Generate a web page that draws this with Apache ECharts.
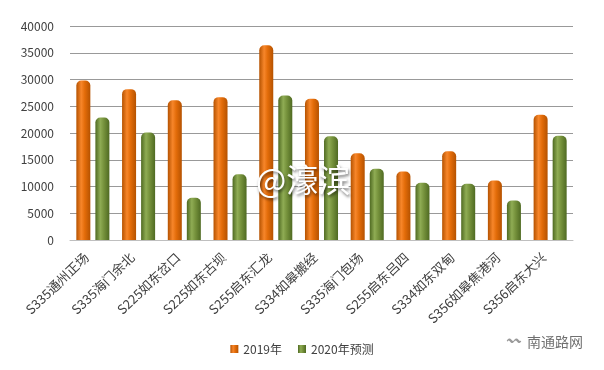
<!DOCTYPE html>
<html><head><meta charset="utf-8">
<script src="https://cdn.jsdelivr.net/npm/echarts@6/dist/echarts.min.js"></script>
<style>html,body{margin:0;padding:0;background:#fff}#c{width:604px;height:370px}</style>
</head><body><div id="c"></div>
<script>
var categories = ['S335通州正场','S335海门余北','S225如东岔口','S225如东古坝','S255启东汇龙','S334如皋搬经','S335海门包场','S255启东吕四','S334如东双甸','S356如皋焦港河','S356启东大兴'];
var values2019 = [29800, 28200, 26100, 26700, 36400, 26400, 16200, 12800, 16600, 11100, 23400];
var values2020 = [22900, 20100, 7900, 12300, 27000, 19400, 13300, 10700, 10500, 7400, 19500];
var seriesNames = ['2019年', '2020年预测'];
var yTicks = {min: 0, max: 40000, interval: 5000};

function cyl(dark, mid, light) {
  return new echarts.graphic.LinearGradient(0, 0, 1, 0, [
    {offset: 0, color: dark}, {offset: 0.35, color: light}, {offset: 0.6, color: mid}, {offset: 1, color: dark}
  ]);
}
var chart = echarts.init(document.getElementById('c'));
var font = '"Noto Sans CJK SC", "Noto Sans", sans-serif';
chart.setOption({
  animation: false,
  textStyle: {fontFamily: font},
  grid: {left: 70, right: 31, top: 26, bottom: 130, containLabel: false},
  legend: {
    bottom: 10, left: 'center', itemWidth: 8, itemHeight: 8, itemGap: 16,
    icon: 'rect',
    textStyle: {fontSize: 12, color: '#404040', fontFamily: font},
    data: seriesNames
  },
  xAxis: {
    type: 'category', data: categories,
    axisTick: {show: false},
    axisLine: {lineStyle: {color: '#bfbfbf'}},
    axisLabel: {rotate: 44, fontSize: 13, color: '#404040', margin: 9, padding: [0, 9, 0, 0], interval: 0, fontFamily: font}
  },
  yAxis: {
    type: 'value', min: yTicks.min, max: yTicks.max, interval: yTicks.interval,
    axisLine: {show: false}, axisTick: {show: false},
    axisLabel: {fontSize: 12, color: '#404040', margin: 16, fontFamily: font, formatter: function (v) { return String(v); }},
    splitLine: {lineStyle: {color: '#999999', width: 1}}
  },
  series: [
    {name: seriesNames[0], type: 'bar', data: values2019, barWidth: 14, barGap: '36%',
     itemStyle: {color: cyl('#b55200', '#e36c09', '#f7862a'), borderRadius: [5, 5, 0, 0]}},
    {name: seriesNames[1], type: 'bar', data: values2020, barWidth: 14,
     itemStyle: {color: cyl('#4f6a22', '#76923c', '#8fac54'), borderRadius: [5, 5, 0, 0]}}
  ],
  graphic: [
    {type: 'text', left: 256, top: 164, z: 100, style: {text: '@濠滨', fontSize: 32, fill: '#ffffff', fontFamily: font,
      textShadowColor: 'rgba(0,0,0,0.55)', textShadowBlur: 3, textShadowOffsetX: 1, textShadowOffsetY: 2}},
    {type: 'text', left: 507, top: 334, style: {text: '〰', fontSize: 14, fill: '#9a9a9a'}},
    {type: 'text', left: 527, top: 335, style: {text: '南通路网', fontSize: 14, fill: '#707070', fontFamily: font}}
  ]
});
</script></body></html>
